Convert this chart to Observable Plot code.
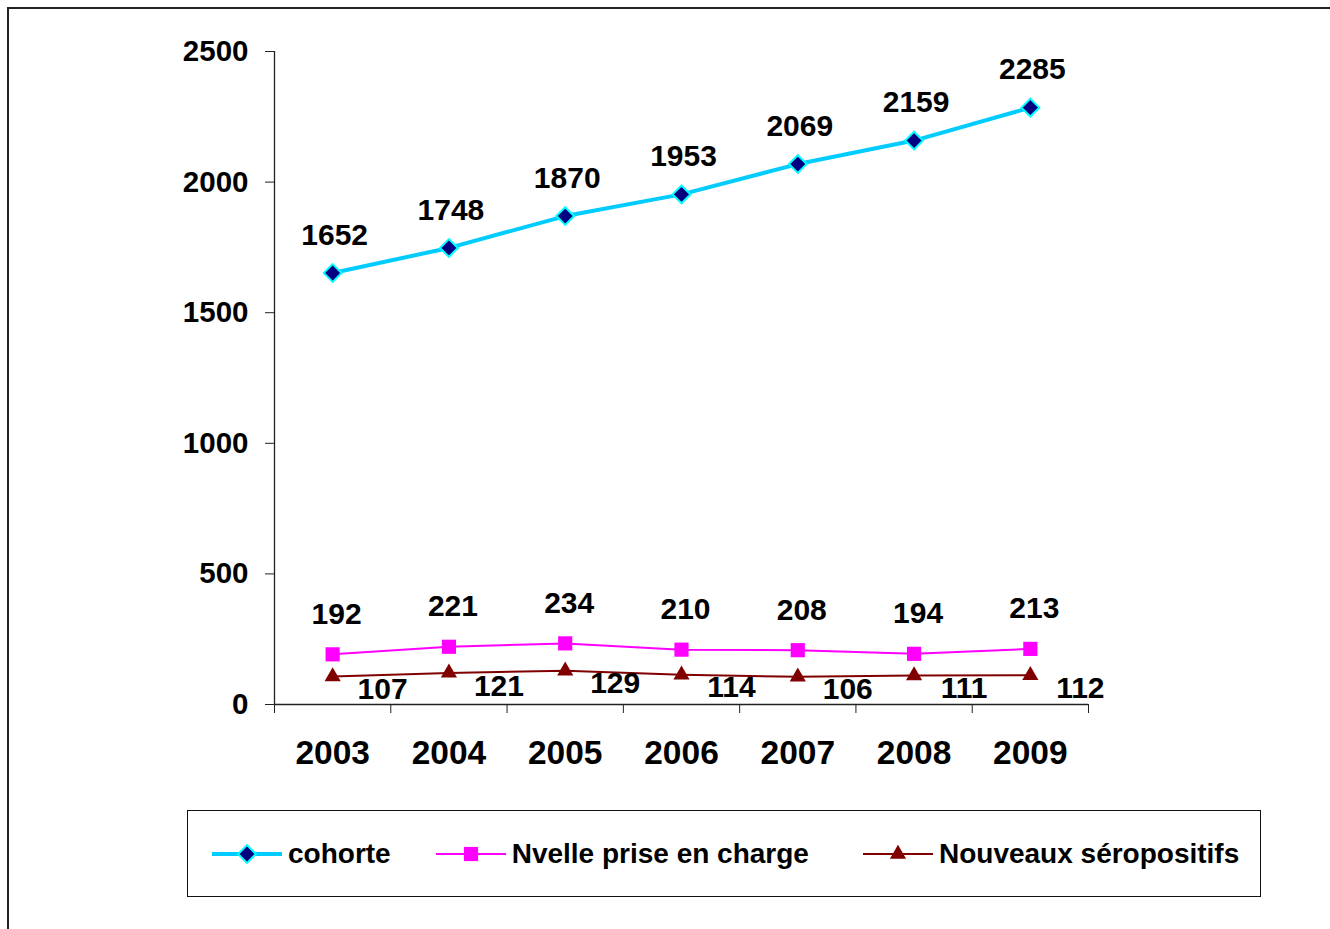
<!DOCTYPE html>
<html><head><meta charset="utf-8">
<script src="https://cdn.jsdelivr.net/npm/d3@7"></script>
<script src="https://cdn.jsdelivr.net/npm/@observablehq/plot@0.6"></script>
<style>
html,body{margin:0;padding:0;background:#fff;overflow:hidden;width:1330px;height:929px;}
body{position:relative;font-family:"Liberation Sans",Arial,sans-serif;}
#frame{position:absolute;left:7px;top:7px;width:1400px;height:1000px;border:2px solid #222;box-sizing:border-box;}
#chart{position:absolute;left:0;top:0;}
#legend{position:absolute;left:187px;top:810px;width:1074px;height:87px;border:1.5px solid #111;box-sizing:border-box;display:flex;align-items:center;padding-left:24px;background:#fff;}
.item{display:flex;align-items:center;font-weight:bold;font-size:28px;color:#000;white-space:nowrap;}
.item svg{margin-right:6px;overflow:visible;}
</style></head><body>
<div id="frame"></div>
<div id="chart"></div>
<div id="legend"></div>
<script>
// ---- data ----
const years = [2003, 2004, 2005, 2006, 2007, 2008, 2009];
const cohorte = [1652, 1748, 1870, 1953, 2069, 2159, 2285];
const nvellePrise = [192, 221, 234, 210, 208, 194, 213];
const nouveauxSero = [107, 121, 129, 114, 106, 111, 112];
const seriesNames = ["cohorte", "Nvelle prise en charge", "Nouveaux séropositifs"];
const yTicks = [0, 500, 1000, 1500, 2000, 2500];

// ---- styles ----
const FONT = '"Liberation Sans", Arial, sans-serif';
const styles = [
  {line: "#00CCFF", width: 4, symbol: "diamond2", r: 8, fill: "#000080", stroke: "#00FFFF", sw: 2, dx: 2, dy: -38},
  {line: "#FF00FF", width: 2, symbol: "square", r: 8, fill: "#FF00FF", stroke: "none", sw: 0, dx: 4, dy: -40},
  {line: "#800000", width: 2, symbol: "triangle", r: 6, fill: "#800000", stroke: "none", sw: 0, dx: 50, dy: 13}
];
const legendGaps = [45, 54, 0];
const allValues = [cohorte, nvellePrise, nouveauxSero];
const tables = allValues.map(vals => years.map((year, i) => ({year, value: vals[i]})));
const boundaries = d3.range(years.length + 1).map(i => years[0] - 0.5 + i);

const marks = [
  Plot.ruleY([0], {x1: boundaries[0], x2: boundaries[boundaries.length - 1], stroke: "#222", strokeWidth: 1.3}),
  Plot.ruleX([boundaries[0]], {y1: 0, y2: yTicks[yTicks.length - 1], stroke: "#222", strokeWidth: 1.3}),
  Plot.axisY(yTicks, {tickSize: 9, tickPadding: 17, tickFormat: d => String(d), fontSize: 29.5, fontWeight: "bold", fill: "#000", stroke: "#222", label: null}),
  Plot.axisX(boundaries, {tickSize: 9, tickFormat: () => "", stroke: "#222", label: null}),
  Plot.axisX(years, {tickSize: 0, tickPadding: 36, tickFormat: d => String(d), fontSize: 33.5, fontWeight: "bold", fill: "#000", label: null})
];
tables.forEach((t, k) => {
  const s = styles[k];
  marks.push(Plot.line(t, {x: "year", y: "value", stroke: s.line, strokeWidth: s.width}));
});
tables.forEach((t, k) => {
  const s = styles[k];
  marks.push(Plot.dot(t, {x: "year", y: "value", symbol: s.symbol, r: s.r, fill: s.fill, stroke: s.stroke, strokeWidth: s.sw}));
  marks.push(Plot.text(t, {x: "year", y: "value", text: d => String(d.value), dx: s.dx, dy: s.dy, fontSize: 30, fontWeight: "bold", fill: "#000"}));
});

const chart = Plot.plot({
  width: 1330, height: 800,
  marginLeft: 274, marginRight: 242, marginTop: 51, marginBottom: 96,
  style: {fontFamily: FONT, color: "#000", background: "transparent", overflow: "visible"},
  x: {type: "linear", domain: [boundaries[0], boundaries[boundaries.length - 1]]},
  y: {type: "linear", domain: [0, yTicks[yTicks.length - 1]]},
  marks
});
document.getElementById("chart").appendChild(chart);

// ---- legend ----
const symMap = {diamond2: d3.symbolDiamond2, square: d3.symbolSquare, triangle: d3.symbolTriangle};
const legend = d3.select("#legend");
seriesNames.forEach((name, k) => {
  const s = styles[k];
  const item = legend.append("div").attr("class", "item").style("margin-right", legendGaps[k] + "px");
  const svg = item.append("svg").attr("width", 70).attr("height", 24);
  svg.append("line").attr("x1", 0).attr("x2", 70).attr("y1", 12).attr("y2", 12)
    .attr("stroke", s.line).attr("stroke-width", s.width);
  svg.append("path").attr("transform", "translate(35,12)")
    .attr("d", d3.symbol(symMap[s.symbol], Math.PI * s.r * s.r)())
    .attr("fill", s.fill).attr("stroke", s.stroke).attr("stroke-width", s.sw);
  item.append("span").text(name);
});
</script>
</body></html>
